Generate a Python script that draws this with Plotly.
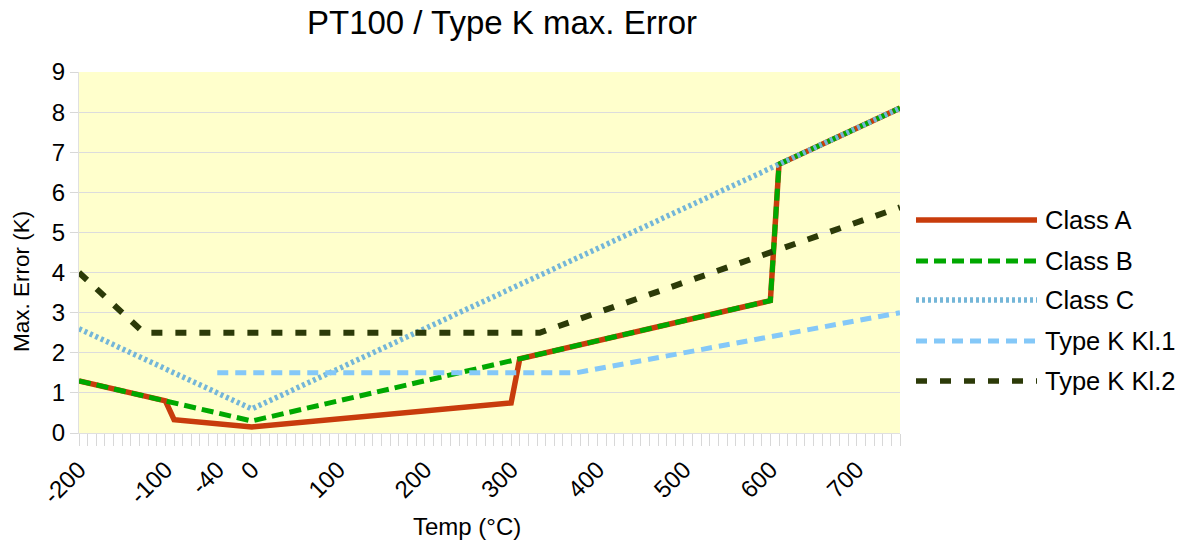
import plotly.graph_objects as go

# ---- data ----
temp_a = [-200, -100, -90, 0, 300, 310, 600, 610, 750]
err_a = [1.3, 0.8, 0.33, 0.15, 0.75, 1.85, 3.3, 6.7, 8.1]

temp_b = [-200, -100, 0, 600, 610, 750]
err_b = [1.3, 0.8, 0.3, 3.3, 6.7, 8.1]

temp_c = [-200, 0, 750]
err_c = [2.6, 0.6, 8.1]

temp_k1 = [-40, 375, 750]
err_k1 = [1.5, 1.5, 3.0]

temp_k2 = [-200, -125, 333, 750]
err_k2 = [4.0, 2.5, 2.5, 5.625]

x_ticks = [-200, -100, -40, 0, 100, 200, 300, 400, 500, 600, 700]
y_ticks = [0, 1, 2, 3, 4, 5, 6, 7, 8, 9]

names = ["Class A", "Class B", "Class C", "Type K Kl.1", "Type K Kl.2"]
series = [(temp_a, err_a), (temp_b, err_b), (temp_c, err_c), (temp_k1, err_k1), (temp_k2, err_k2)]

styles = [
    dict(color="#c83c0c", width=5.5, dash="solid"),
    dict(color="#00a800", width=5, dash="12px,6px"),
    dict(color="#74b6d8", width=5.5, dash="3px,3px"),
    dict(color="#84c8f8", width=5, dash="11px,7px"),
    dict(color="#2c3a08", width=6, dash="11px,13px"),
]

FONT = "Liberation Sans, Arial, sans-serif"

fig = go.Figure()
for (xs, ys), name, st in zip(series, names, styles):
    fig.add_trace(go.Scatter(x=xs, y=ys, mode="lines", name=name,
                             line=dict(color=st["color"], width=st["width"], dash=st["dash"]),
                             showlegend=False))

W, H = 1185, 542
L, R, T, B = 79, 285, 72, 109
PW, PH = W - L - R, H - T - B


def px_x(px):
    return (px - L) / PW


def px_y(py):
    return (H - B - py) / PH


# custom legend (long line samples like the original)
legend_y = [220, 261, 300, 341, 381]
shapes = []
annotations = []
for name, st, py in zip(names, styles, legend_y):
    shapes.append(dict(type="line", xref="paper", yref="paper",
                       x0=px_x(916), x1=px_x(1037), y0=px_y(py), y1=px_y(py),
                       line=dict(color=st["color"], width=min(st["width"], 5.5), dash=st["dash"])))
    annotations.append(dict(text=name, xref="paper", yref="paper",
                            x=px_x(1043), y=px_y(py),
                            xanchor="left", yanchor="middle", showarrow=False,
                            font=dict(family=FONT, size=25.5, color="#000000")))

# axis titles
annotations.append(dict(text="Temp (°C)", xref="paper", yref="paper",
                        x=px_x(467), y=px_y(526),
                        xanchor="center", yanchor="middle", showarrow=False,
                        font=dict(family=FONT, size=24, color="#000000")))
annotations.append(dict(text="Max. Error (K)", xref="paper", yref="paper",
                        x=px_x(21), y=px_y(282),
                        xanchor="center", yanchor="middle", showarrow=False, textangle=-90,
                        font=dict(family=FONT, size=22.5, color="#000000")))

fig.update_layout(
    width=W, height=H,
    margin=dict(l=L, r=R, t=T, b=B, autoexpand=False),
    paper_bgcolor="#ffffff",
    plot_bgcolor="#ffffcc",
    title=dict(text="PT100 / Type K max. Error", x=502 / W, xref="container", xanchor="center",
               y=1 - 22 / H, yref="container", yanchor="middle",
               font=dict(family=FONT, size=33, color="#000000")),
    shapes=shapes,
    annotations=annotations,
    showlegend=False,
)

fig.update_xaxes(range=[-200, 750], tickmode="array", tickvals=x_ticks,
                 ticktext=[str(v) for v in x_ticks], tickangle=-45, automargin=False,
                 tickfont=dict(family=FONT, size=24, color="#000000"),
                 showgrid=False, zeroline=False, showline=True, linecolor="#e0e0e0",
                 ticks="outside", ticklen=12, tickcolor="#d8d8d8",
                 minor=dict(dtick=10, tick0=0, ticks="outside", ticklen=12, tickcolor="#d8d8d8", showgrid=False))
fig.update_yaxes(range=[0, 9], tickmode="array", tickvals=y_ticks, automargin=False,
                 tickfont=dict(family=FONT, size=24, color="#000000"),
                 showgrid=True, gridcolor="#dcdcdc", gridwidth=1, zeroline=False,
                 showline=True, linecolor="#e0e0e0",
                 ticks="outside", ticklen=8, tickcolor="#d8d8d8")

fig.write_html("out.html", config={"displayModeBar": False},
               post_script="document.body.style.margin='0';document.body.style.overflow='hidden';")
